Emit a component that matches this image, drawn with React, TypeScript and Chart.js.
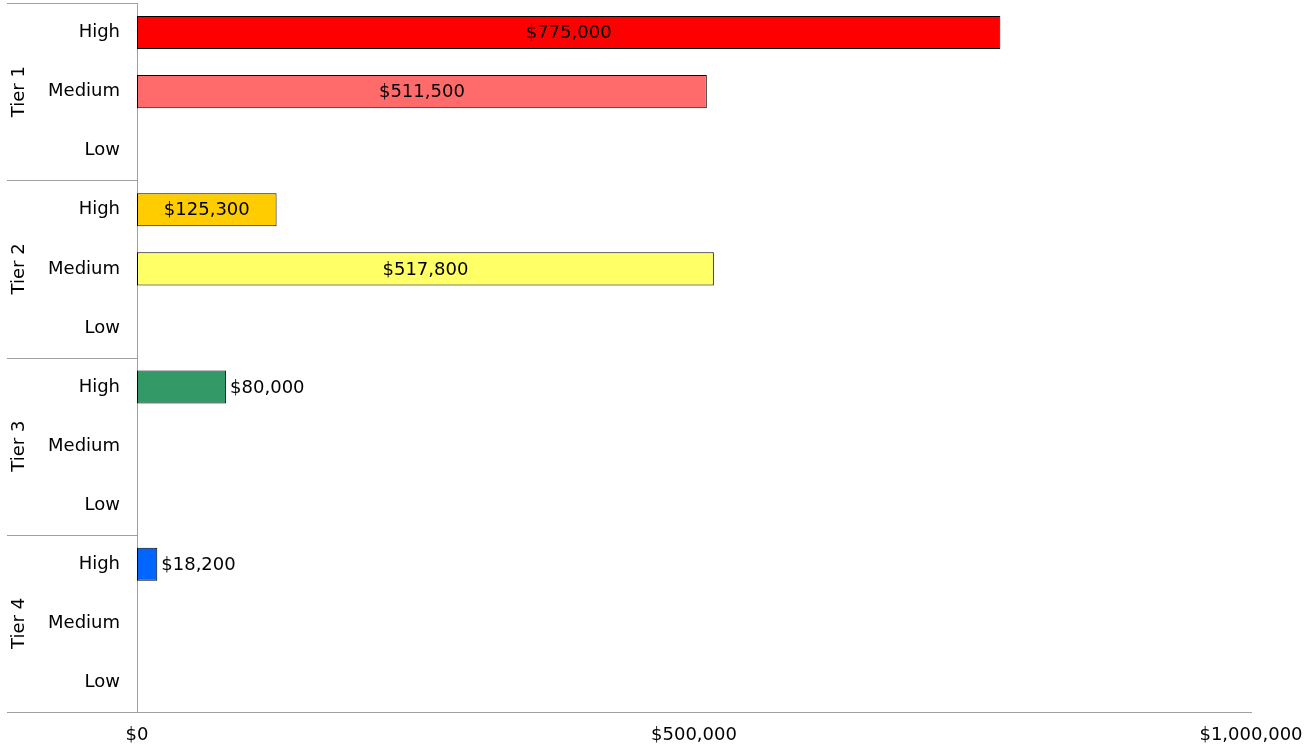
import React, { useEffect, useRef } from "react";
import { Chart, registerables } from "chart.js";

Chart.register(...registerables);

const tiers = ["Tier 1", "Tier 2", "Tier 3", "Tier 4"];
const levels = ["High", "Medium", "Low"];
const tier1Values = [775000, 511500, null];
const tier2Values = [125300, 517800, null];
const tier3Values = [80000, null, null];
const tier4Values = [18200, null, null];
const tier1Colors = ["#ff0000", "#ff6b6b", "#ff0000"];
const tier2Colors = ["#ffcc00", "#ffff66", "#ffcc00"];
const tier3Colors = ["#339966", "#339966", "#339966"];
const tier4Colors = ["#0066ff", "#0066ff", "#0066ff"];
const xTicks = [0, 500000, 1000000];

const FONT = "'DejaVu Sans', sans-serif";
const money = (v: number) => "$" + v.toLocaleString("en-US");

export default function App() {
  const ref = useRef<HTMLCanvasElement | null>(null);
  useEffect(() => {
    if (!ref.current) return;
    const labels: string[] = [];
    tiers.forEach(() => levels.forEach((l) => labels.push(l)));
    const values = [...tier1Values, ...tier2Values, ...tier3Values, ...tier4Values];
    const colors = [...tier1Colors, ...tier2Colors, ...tier3Colors, ...tier4Colors];

    const groupPlugin = {
      id: "groups",
      afterDraw(chart: any) {
        const ctx = chart.ctx;
        const area = chart.chartArea;
        const n = levels.length;
        const step = (area.bottom - area.top) / labels.length;
        ctx.save();
        ctx.strokeStyle = "#a0a0a0";
        ctx.lineWidth = 1;
        for (let t = 0; t <= tiers.length; t++) {
          const yy = Math.round(area.top + t * n * step) + 0.5;
          ctx.beginPath();
          ctx.moveTo(7, yy);
          ctx.lineTo(t === tiers.length ? area.right : area.left, yy);
          ctx.stroke();
        }
        ctx.fillStyle = "#000";
        ctx.font = `18px ${FONT}`;
        ctx.textAlign = "center";
        ctx.textBaseline = "middle";
        tiers.forEach((tier, t) => {
          const cy = area.top + (t * n + n / 2) * step;
          ctx.save();
          ctx.translate(19, cy);
          ctx.rotate(-Math.PI / 2);
          ctx.fillText(tier, 0, 0);
          ctx.restore();
        });
        ctx.restore();
      },
      afterDatasetsDraw(chart: any) {
        const ctx = chart.ctx;
        const meta = chart.getDatasetMeta(0);
        ctx.save();
        ctx.font = `18px ${FONT}`;
        ctx.fillStyle = "#000";
        ctx.textBaseline = "middle";
        meta.data.forEach((bar: any, i: number) => {
          const v = values[i];
          if (v == null) return;
          const txt = money(v);
          const w = ctx.measureText(txt).width;
          const bw = bar.x - bar.base;
          if (w + 20 < bw) {
            ctx.textAlign = "center";
            ctx.fillText(txt, (bar.x + bar.base) / 2, bar.y + 1);
          } else {
            ctx.textAlign = "left";
            ctx.fillText(txt, bar.x + 4, bar.y + 1);
          }
        });
        ctx.restore();
      },
    };

    const chart = new Chart(ref.current, {
      type: "bar",
      data: {
        labels,
        datasets: [
          {
            data: values as any,
            backgroundColor: colors,
            borderColor: "#000",
            borderWidth: 1,
            borderSkipped: false,
            categoryPercentage: 1,
            barPercentage: 0.56,
          },
        ],
      },
      options: {
        indexAxis: "y",
        responsive: false,
        animation: false,
        layout: { padding: { left: 7, top: 3, right: 65, bottom: 0 } },
        plugins: { legend: { display: false }, tooltip: { enabled: false } },
        scales: {
          x: {
            min: 0,
            max: 1000000,
            afterBuildTicks(scale: any) {
              scale.ticks = xTicks.map((v) => ({ value: v }));
            },
            afterFit(scale: any) {
              scale.height = 37;
              scale.paddingLeft = 0;
              scale.paddingRight = 0;
            },
            grid: { display: false, drawTicks: false },
            border: { display: true, color: "#a0a0a0" },
            ticks: {
              padding: 13,
              color: "#000",
              font: { family: FONT, size: 18 },
              maxRotation: 0,
              callback: (v: any) => money(Number(v)),
            },
          },
          y: {
            afterFit(scale: any) {
              scale.width = 130;
              scale.paddingTop = 0;
              scale.paddingBottom = 0;
            },
            grid: { display: false, drawTicks: false },
            border: { display: true, color: "#a0a0a0" },
            ticks: {
              padding: 17,
              color: "#000",
              font: { family: FONT, size: 18 },
              autoSkip: false,
            },
          },
        },
      },
      plugins: [groupPlugin],
    });
    return () => chart.destroy();
  }, []);
  return (
    <div style={{ position: "absolute", left: 0, top: 0, width: 1316, height: 749 }}>
      <canvas ref={ref} width={1316} height={749} />
    </div>
  );
}
